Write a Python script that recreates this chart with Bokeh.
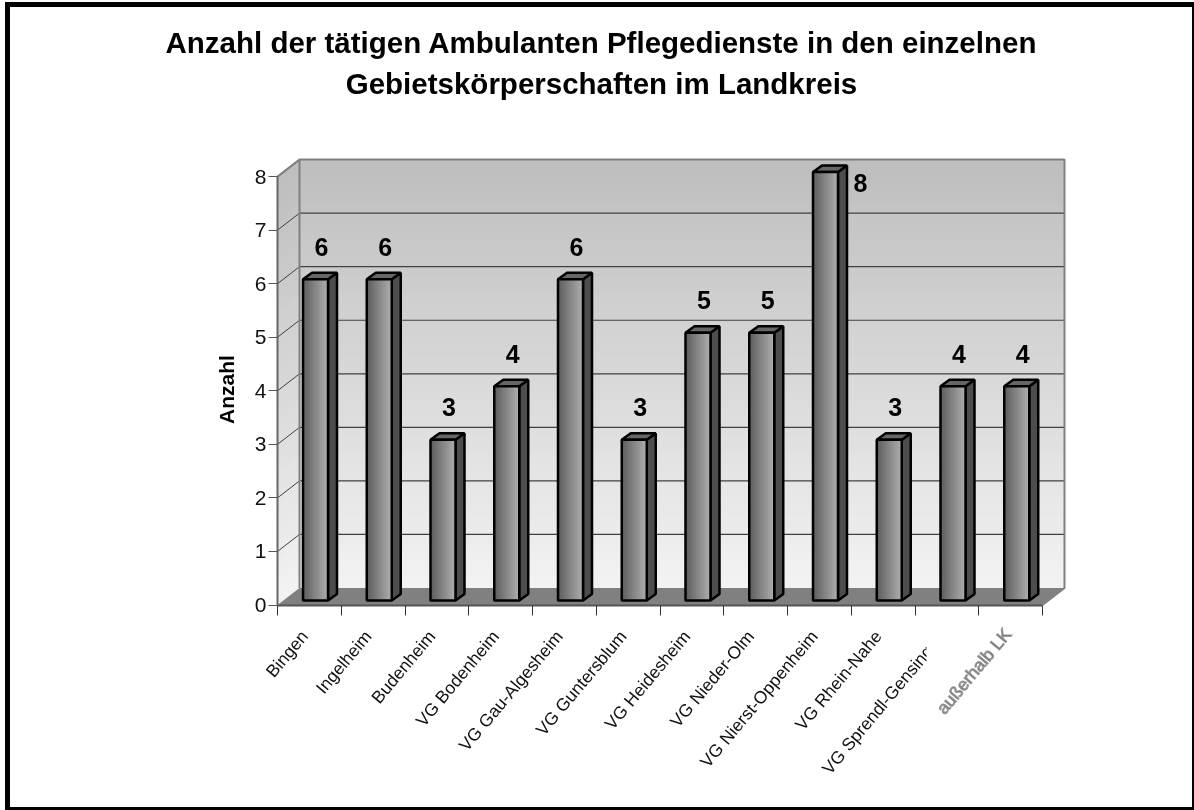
from bokeh.plotting import figure
from bokeh.embed import file_html
from bokeh.resources import INLINE
from bokeh.models import FixedTicker, Range1d, Title
from bokeh.core.properties import value

categories = ["Bingen", "Ingelheim", "Budenheim", "VG Bodenheim", "VG Gau-Algesheim", "VG Guntersblum",
              "VG Heidesheim", "VG Nieder-Olm", "VG Nierst-Oppenheim", "VG Rhein-Nahe",
              "VG Sprendl-Gensingen", "außerhalb LK"]
counts = [6, 6, 3, 4, 6, 3, 5, 5, 8, 3, 4, 4]
y_ticks = [0, 1, 2, 3, 4, 5, 6, 7, 8]
title_lines = ["Anzahl der tätigen Ambulanten Pflegedienste in den einzelnen",
               "Gebietskörperschaften im Landkreis"]
y_label = "Anzahl"

CL, CT, CW, CH = 10, 7, 1192, 810       # canvas position and size (the border counts in its size)
L, T, R, B = 10, 122, 1192, 807         # frame in page pixels
X0, UX = 277.0, 63.75                   # page x of category 0, px per category
Y0, UY = 604.5, 53.55                   # page y of value 0, px per unit
FONT = "Liberation Sans"

px = lambda v: v / UX
py = lambda v: v / UY
DX, DY = px(22), py(17)                 # wall depth
BX0, BX1 = px(25.5), px(50.5)           # bar front within a category
BDX, BDY = px(9), py(6.5)               # bar depth
BASE = py(4.5)                          # bar base above the front edge

p = figure(width=CW - 10, height=CH - 10, output_backend="svg", toolbar_location=None,
           x_range=Range1d((L - X0) / UX, (R - X0) / UX),
           y_range=Range1d((Y0 - B) / UY, (Y0 - T) / UY),
           min_border_left=L - CL, min_border_right=CL + CW - R, min_border_top=T - CT,
           min_border_bottom=CT + CH - B,
           outline_line_color=None, background_fill_color="white", border_fill_color="white",
           styles={"position": "fixed", "left": "5px", "top": "2px", "border": "5px solid black",
                   "box-sizing": "content-box"})
p.grid.visible = False

p.add_layout(Title(text=title_lines[1], text_font=FONT, text_font_size="29.5px", text_font_style="bold",
                   text_color="black", align="center", standoff=45, text_line_height=0.7), "above")
p.add_layout(Title(text=title_lines[0], text_font=FONT, text_font_size="29.5px", text_font_style="bold",
                   text_color="black", align="center", standoff=-32), "above")


def mix(a, b, f):
    c = round(a + (b - a) * f)
    return f"#{c:02x}{c:02x}{c:02x}"


# walls: vertical gradient
STEPS = 48
n_cat = len(categories)
top = max(y_ticks)
for i in range(STEPS):
    a = top * i / STEPS
    b = min(top * (i + 1) / STEPS + py(1), top)
    c = mix(0xf2, 0xbe, i / (STEPS - 1))
    p.quad(left=DX, right=n_cat + DX, bottom=a + DY, top=b + DY, fill_color=c, line_color=None)
    p.patch([0, DX, DX, 0], [a, a + DY, b + DY, b], fill_color=c, line_color=None)

# floor
p.patch([0, DX, n_cat + DX, n_cat], [0, DY, DY, 0], fill_color="#808080", line_color=None)

# grid lines, on side wall and back wall
for v in y_ticks[1:]:
    col = "#404040"
    p.line([0, DX], [v, v + DY], line_color=col, line_width=1)
    if v < top:
        p.line([DX, n_cat + DX], [v + DY, v + DY], line_color=col, line_width=1.2)

# wall frame
p.line([0, DX, n_cat + DX, n_cat + DX, n_cat], [top, top + DY, top + DY, DY, 0], line_color="#808080", line_width=2)
p.line([DX, DX], [DY, top + DY], line_color="#808080", line_width=2)

# bars
GRAD = 12
for i, v in enumerate(counts):
    x0, x1 = i + BX0, i + BX1
    y0, y1 = BASE, BASE + v
    p.patch([x1, x1 + BDX, x1 + BDX, x1], [y0, y0 + BDY, y1 + BDY, y1],
            fill_color="#4d4d4d", line_color="black", line_width=2.5)
    p.patch([x0, x1, x1 + BDX, x0 + BDX], [y1, y1, y1 + BDY, y1 + BDY],
            fill_color="#666666", line_color="black", line_width=2.5)
    w = (x1 - x0) / GRAD
    for k in range(GRAD):
        p.quad(left=x0 + k * w, right=min(x0 + (k + 1) * w + px(1), x1), bottom=y0, top=y1,
               fill_color=mix(0x60, 0xac, k / (GRAD - 1)), line_color=None)
    p.quad(left=x0, right=x1, bottom=y0, top=y1, fill_color=None, line_color="black", line_width=2.5)

# value labels
lab_x = [i + px(44) for i in range(n_cat)]
lab_y = list(counts)
lab_dy = [-37 for _ in counts]
lab_x[8] = 8 + px(73)
lab_dy[8] = 6
p.text(x=lab_x, y=lab_y, text=[str(c) for c in counts], y_offset=lab_dy,
       text_font=value(FONT), text_font_size="25px", text_font_style="bold", text_color="black",
       text_align="center", text_baseline="middle")

# axes
p.yaxis.fixed_location = 0
p.yaxis.bounds = (0, 8)
p.yaxis.ticker = FixedTicker(ticks=y_ticks)
p.yaxis.axis_line_color = "#666666"
p.yaxis.axis_line_width = 2
p.yaxis.major_tick_line_color = "#555555"
p.yaxis.major_tick_out = 9
p.yaxis.major_tick_in = 0
p.yaxis.minor_tick_line_color = None
p.yaxis.major_label_text_font = FONT
p.yaxis.major_label_text_font_size = "21px"
p.yaxis.major_label_text_color = "#111111"
p.yaxis.major_label_standoff = 2

p.xaxis.fixed_location = 0
p.xaxis.bounds = (0, n_cat)
p.xaxis.ticker = FixedTicker(ticks=list(range(n_cat + 1)))
p.xaxis.major_label_text_font_size = "0px"
p.xaxis.major_label_text_color = None
p.xaxis.axis_line_color = "#555555"
p.xaxis.axis_line_width = 2
p.xaxis.major_tick_line_color = "#333333"
p.xaxis.major_tick_out = 10
p.xaxis.major_tick_in = 0
p.xaxis.minor_tick_line_color = None

# y axis name
p.text(x=[px(-51)], y=[py(Y0 - 389)], text=[y_label], angle=90, angle_units="deg",
       text_font=value(FONT), text_font_size="21px", text_font_style="bold", text_color="black",
       text_align="center", text_baseline="middle")

# category labels
cx = [i + 0.5 for i in range(n_cat)]
main = list(range(n_cat - 1))
p.text(x=[cx[i] for i in main], y=[0] * len(main), text=[categories[i] for i in main],
       x_offset=-5, y_offset=28, angle=50, angle_units="deg",
       text_font=value(FONT), text_font_size="17.5px", text_color="#111111",
       text_align="right", text_baseline="middle")
# the long label is cut off in the original
p.quad(left=px(926 - X0), right=px(952 - X0), bottom=py(Y0 - 660), top=py(Y0 - 618), fill_color="white", line_color=None)
p.text(x=[cx[-1]], y=[0], text=[categories[-1]], x_offset=-3, y_offset=26, angle=50, angle_units="deg",
       text_font=value(FONT), text_font_size="17.5px", text_color="#666666",
       outline_color="#999999", text_align="right", text_baseline="middle")

open("out.html", "w").write(file_html(p, INLINE))
